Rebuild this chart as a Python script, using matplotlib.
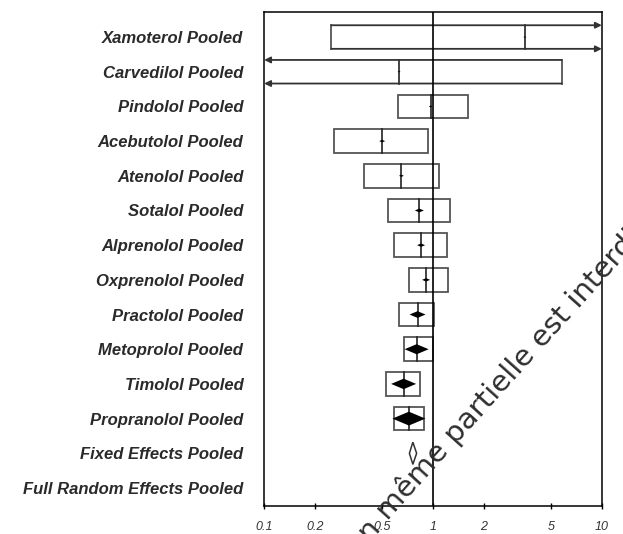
import matplotlib.pyplot as plt
import numpy as np
from matplotlib.patches import Rectangle, Polygon
from matplotlib.path import Path

# pooled odds ratios per beta blocker
drugs = ["Xamoterol", "Carvedilol", "Pindolol", "Acebutolol", "Atenolol", "Sotalol",
         "Alprenolol", "Oxprenolol", "Practolol", "Metoprolol", "Timolol", "Propranolol"]
est = [3.5, 0.63, 0.97, 0.50, 0.65, 0.83, 0.85, 0.91, 0.81, 0.80, 0.67, 0.72]
lo = [0.25, 0.05, 0.62, 0.26, 0.39, 0.54, 0.59, 0.72, 0.63, 0.67, 0.53, 0.59]
hi = [15.0, 5.8, 1.61, 0.93, 1.09, 1.26, 1.21, 1.23, 1.01, 1.00, 0.84, 0.88]
weights = [3, 3, 4, 6, 5, 9, 8, 8, 16, 24, 25, 33]

fixed_est, fixed_lo, fixed_hi = 0.76, 0.725, 0.80

labels = [d + " Pooled" for d in drugs] + ["Fixed Effects Pooled", "Full Random Effects Pooled"]
xticks = [0.1, 0.2, 0.5, 1, 2, 5, 10]
xticklabels = ["0.1", "0.2", "0.5", "1", "2", "5", "10"]

XMIN, XMAX = 0.1, 10
half_h = 0.34
box_col = "#555555"

fig = plt.figure(figsize=(6.23, 5.34), dpi=100)
ax = fig.add_axes([0.424, 0.0524, 0.542, 0.925])
ax.set_xscale("log")
ax.set_xlim(XMIN, XMAX)
ax.set_ylim(13.52, -0.72)

ypos = np.arange(len(labels))

for i in range(len(drugs)):
    y = ypos[i]
    l = max(lo[i], XMIN)
    h = min(hi[i], XMAX)
    if lo[i] >= XMIN and hi[i] <= XMAX:
        ax.add_patch(Rectangle((l, y - half_h), h - l, 2 * half_h, fill=False,
                               ec=box_col, lw=1.3))
    else:
        for yy in (y - half_h, y + half_h):
            if hi[i] > XMAX:
                ax.annotate("", xy=(XMAX, yy), xytext=(l, yy),
                            arrowprops=dict(arrowstyle="-|>", color="#333333", lw=1.3,
                                            mutation_scale=9, shrinkA=0, shrinkB=0),
                            annotation_clip=False)
            else:
                ax.annotate("", xy=(XMIN, yy), xytext=(h, yy),
                            arrowprops=dict(arrowstyle="-|>", color="#333333", lw=1.3,
                                            mutation_scale=9, shrinkA=0, shrinkB=0),
                            annotation_clip=False)
        if lo[i] >= XMIN:
            ax.plot([l, l], [y - half_h, y + half_h], color=box_col, lw=1.3)
        if hi[i] <= XMAX:
            ax.plot([h, h], [y - half_h, y + half_h], color=box_col, lw=1.3)
    ax.plot([est[i], est[i]], [y - half_h, y + half_h], color="#222222", lw=1.2)

# weighted diamonds
diamond = Path([(-1, 0), (0, 0.42), (1, 0), (0, -0.42), (-1, 0)],
               [Path.MOVETO, Path.LINETO, Path.LINETO, Path.LINETO, Path.CLOSEPOLY])
sizes = [(0.72 * w) ** 2 for w in weights]
ax.scatter(est, ypos[:len(drugs)], s=sizes, marker=diamond, color="black",
           linewidths=0, zorder=4)

# fixed effects summary diamond
yf = ypos[len(drugs)]
ax.add_patch(Polygon([(fixed_lo, yf), (fixed_est, yf - 0.32), (fixed_hi, yf),
                      (fixed_est, yf + 0.32)], closed=True, fill=False,
                     ec="#333333", lw=1.1))

ax.axvline(1, color="black", lw=1.2, zorder=3)

ax.set_yticks(ypos)
ax.set_yticklabels(labels, fontfamily="Liberation Sans", fontweight="bold",
                   fontstyle="italic", fontsize=12, color="#2a2a2a")
ax.tick_params(axis="y", length=0, pad=15)

ax.set_xticks(xticks)
ax.set_xticklabels(xticklabels, fontfamily="Liberation Sans", fontstyle="italic",
                   fontsize=9, color="#333333")
ax.xaxis.set_minor_locator(plt.NullLocator())
ax.tick_params(axis="x", direction="inout", length=5, width=1, pad=8)

for s in ax.spines.values():
    s.set_linewidth(1.1)

# diagonal watermark (runs off the figure, as in the scan)
wm = dict(fontsize=21, color="#2e2e2e", rotation=48, rotation_mode="anchor",
          va="baseline", zorder=10)
fig.text(0.612, 0.012, "Reproduction", ha="right", **wm)
fig.text(0.612, 0.012, " même partielle est interdite", ha="left", **wm)

plt.savefig("out.png", dpi=100)
plt.close()
